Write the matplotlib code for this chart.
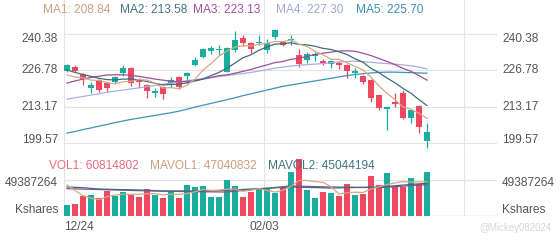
import matplotlib
matplotlib.use("Agg")
import matplotlib.pyplot as plt
import numpy as np
from matplotlib import transforms

plt.rcParams['font.family'] = ['Liberation Sans', 'DejaVu Sans']

# ---- data ----
date_labels = ['12/24', '02/03']
date_idx = [0, 25]

opens = [226.6, 228.2, 225.4, 220.0, 223.1, 222.0, 222.4, 225.6, 227.6, 223.1,
         221.3, 218.3, 220.5, 222.0, 224.3, 224.7, 228.8, 231.8, 234.0, 234.3,
         226.2, 234.4, 238.9, 237.0, 237.0, 234.4, 239.3, 237.4, 238.1, 232.5,
         230.6, 232.1, 230.2, 229.1, 229.5, 228.8, 225.8, 224.7, 223.1, 217.5,
         212.2, 214.9, 218.3, 208.9, 213.4, 200.3]
closes = [228.8, 226.7, 223.5, 221.3, 219.4, 220.1, 224.3, 227.6, 222.0, 222.4,
          219.0, 219.0, 217.9, 223.1, 220.5, 225.6, 230.6, 234.8, 235.1, 234.6,
          235.1, 238.1, 237.0, 234.8, 237.4, 237.0, 241.9, 236.3, 238.5, 229.1,
          232.9, 232.9, 229.5, 230.2, 228.8, 226.6, 226.6, 222.4, 216.4, 212.6,
          213.2, 214.2, 208.9, 211.9, 205.5, 203.6]
highs = [229.3, 228.6, 225.8, 222.4, 223.5, 222.4, 224.8, 228.8, 228.2, 223.9,
         221.6, 220.1, 220.9, 224.3, 224.8, 226.2, 231.8, 235.1, 235.9, 236.3,
         235.5, 241.5, 240.0, 237.4, 240.0, 238.5, 242.3, 237.8, 240.0, 234.8,
         233.6, 233.6, 231.0, 230.6, 230.2, 229.1, 227.6, 225.0, 223.5, 218.0,
         213.6, 218.3, 219.4, 212.2, 213.8, 207.0]
lows = [226.2, 226.3, 221.3, 218.3, 218.8, 218.6, 222.0, 224.8, 220.9, 220.5,
        216.4, 216.7, 216.0, 220.5, 219.8, 222.0, 228.4, 231.4, 232.9, 232.5,
        226.2, 233.6, 235.9, 233.3, 236.3, 233.3, 238.5, 235.9, 236.3, 228.0,
        229.5, 230.2, 228.8, 227.6, 227.1, 223.9, 224.0, 221.6, 214.9, 211.9,
        204.4, 213.0, 208.6, 207.0, 203.3, 197.7]
volume_m = [15.1, 16.5, 27.4, 28.8, 25.1, 34.3, 27.9, 33.4, 28.4, 25.6,
            37.0, 28.4, 25.1, 32.9, 25.1, 42.5, 40.2, 41.2, 26.5, 26.5,
            49.4, 41.6, 26.1, 33.4, 37.0, 37.0, 31.1, 38.0, 60.8, 77.8,
            35.7, 24.3, 32.5, 31.1, 27.4, 43.5, 28.8, 30.2, 55.3, 42.5,
            59.4, 39.4, 39.4, 51.7, 43.9, 60.8]

ma1 = [225.0, 224.3, 223.9, 223.1, 223.0, 222.2, 221.7, 222.5, 222.7, 223.3,
       223.1, 222.0, 220.1, 220.3, 219.9, 221.2, 223.5, 226.9, 229.3, 232.1,
       234.0, 235.5, 236.0, 235.9, 236.5, 236.9, 237.6, 237.5, 238.2, 236.6,
       235.7, 233.9, 232.6, 230.9, 230.9, 229.6, 228.3, 226.9, 224.2, 220.9,
       218.2, 215.8, 213.1, 212.2, 210.7, 208.8]
ma2 = [226.9, 226.0, 225.2, 224.5, 223.8, 223.3, 223.2, 223.5, 223.5, 223.2,
       222.6, 221.9, 221.3, 221.5, 221.6, 222.1, 222.8, 223.5, 224.8, 226.0,
       227.6, 229.5, 231.5, 232.6, 234.3, 235.5, 236.6, 236.7, 237.1, 236.5,
       236.3, 235.8, 235.0, 234.6, 233.7, 232.7, 231.1, 229.8, 227.5, 225.9,
       223.9, 222.1, 220.0, 218.2, 215.8, 213.6]
ma3 = [222.0, 222.8, 223.5, 224.1, 224.6, 225.0, 225.1, 225.1, 224.9, 224.5,
       224.0, 223.5, 223.1, 222.7, 222.5, 222.6, 223.0, 223.5, 224.1, 224.8,
       225.1, 225.7, 226.4, 227.1, 228.0, 228.8, 229.7, 230.1, 230.9, 231.3,
       232.0, 232.7, 233.2, 233.6, 234.0, 234.1, 233.9, 233.2, 232.3, 231.2,
       230.1, 228.9, 227.5, 226.4, 224.8, 223.1]
ma4 = [216.0, 216.5, 217.0, 217.5, 218.0, 218.5, 219.0, 219.4, 219.8, 220.2,
       220.7, 221.1, 221.6, 222.0, 222.5, 222.9, 223.3, 223.7, 224.0, 224.4,
       224.8, 225.2, 225.6, 226.0, 226.5, 227.0, 227.6, 228.0, 228.4, 228.7,
       228.9, 229.1, 229.3, 229.6, 229.9, 230.1, 230.2, 230.0, 229.8, 229.5,
       229.3, 229.1, 228.8, 228.5, 228.0, 227.3]
ma5 = [203.3, 203.9, 204.6, 205.2, 205.9, 206.5, 207.2, 207.8, 208.4, 208.9,
       209.4, 209.9, 210.4, 210.9, 211.5, 212.2, 213.0, 213.7, 214.4, 215.1,
       215.8, 216.5, 217.3, 218.0, 218.7, 219.4, 220.1, 220.8, 221.3, 221.8,
       222.3, 222.8, 223.3, 223.8, 224.3, 224.8, 225.2, 225.5, 225.8, 226.0,
       226.1, 226.1, 226.0, 225.9, 225.8, 225.7]

mavol1_m = [42.5, 35.0, 28.0, 24.5, 22.6, 26.4, 28.7, 29.9, 29.8, 29.9,
            30.5, 30.6, 28.9, 29.8, 29.7, 30.8, 33.2, 36.4, 35.1, 35.4,
            36.8, 37.0, 34.0, 35.4, 37.5, 35.0, 32.9, 35.3, 40.8, 48.9,
            48.7, 47.3, 46.2, 40.3, 30.2, 31.8, 32.7, 32.2, 37.0, 40.1,
            43.2, 45.4, 47.2, 46.5, 46.8, 47.0]
mavol2_idx = [0, 2, 4, 6, 9, 12, 17, 20, 28, 33, 39, 45]
mavol2_m = [39.8, 38.8, 37.0, 36.4, 35.7, 34.3, 34.3, 35.3, 39.8, 38.4, 39.8, 45.0]
mavol3_idx = [0, 5, 10, 15, 20, 28, 33, 39, 45]
mavol3_m = [37.5, 36.0, 34.5, 33.5, 32.9, 41.2, 39.8, 38.8, 43.0]

ma_names = ['MA1', 'MA2', 'MA3', 'MA4', 'MA5']
ma_last = ['208.84', '213.58', '223.13', '227.30', '225.70']
price_ticks = [240.38, 226.78, 213.17, 199.57]
vol_tick = 49387264
vol_texts = ['VOL1: 60814802', 'MAVOL1: 47040832', 'MAVOL2: 45044194']

# ---- colours ----
UP = '#1aad9e'
DOWN = '#ef4760'
GRID = '#e4e4e4'
LABEL = '#555555'
ma_line_colors = ['#d6a982', '#3f6c79', '#9e4e9a', '#aaaede', '#3b94bd']
ma_text_colors = ['#c8a27f', '#3f7584', '#a14f9e', '#a1a8d6', '#3a8fb8']
vol_text_colors = ['#ec6b7d', '#c8a27f', '#3f7584']

W, H = 560, 240
FS = 8.6


def rect(x0, y0, x1, y1):
    return [x0 / W, 1 - y1 / H, (x1 - x0) / W, (y1 - y0) / H]


fig = plt.figure(figsize=(W / 100, H / 100), dpi=100)

n = len(closes)
x = np.arange(n)
o = np.array(opens)
c = np.array(closes)
colors = np.where(c >= o, UP, DOWN)

# index space: candle i sits at pixel 67 + 8*i, plot runs from 64 to 497
x0, x1 = -0.375, 53.75
vgrid = [x0, 25 + x0, 50 + x0, x1]

bg = fig.add_axes(rect(64, 0, 497, 216))
bg.set_xlim(x0, x1)
bg.set_ylim(0, 1)
bg.axis('off')
for g in vgrid:
    bg.axvline(g, color=GRID, lw=0.8, zorder=0)

# price panel: 240.38 at y=34px, 199.57 at y=143px
k = (price_ticks[0] - price_ticks[-1]) / (143 - 34)
ax = fig.add_axes(rect(64, 22, 497, 150))
ax.patch.set_visible(False)
ax.set_xlim(x0, x1)
ax.set_ylim(price_ticks[0] - (150 - 34) * k, price_ticks[0] + (34 - 22) * k)
for t in price_ticks:
    ax.axhline(t, color=GRID, lw=0.8, zorder=0)

ax.vlines(x, lows, highs, colors=colors, lw=0.9, zorder=2)
body_low = np.minimum(o, c)
body_h = np.maximum(np.abs(c - o), 0.3)
ax.bar(x, body_h, bottom=body_low, width=0.72, color=colors, lw=0, zorder=2)

for ma, col in zip([ma5, ma4, ma3, ma2, ma1], ma_line_colors[::-1]):
    ax.plot(x, ma, color=col, lw=0.9, zorder=3)

# volume panel: 0 at y=216px, 49387264 at y=180px
vax = fig.add_axes(rect(64, 150, 497, 216))
vax.patch.set_visible(False)
vax.set_xlim(x0, x1)
vax.set_ylim(0, vol_tick * 66 / 36)
vax.axhline(vol_tick, color=GRID, lw=0.8, zorder=0)
vax.axhline(0, color='#d6d6d6', lw=1.0, zorder=0)
vol = np.array(volume_m) * 1e6
vax.bar(x, vol, width=0.72, color=colors, lw=0, zorder=2)
vax.plot(mavol3_idx, np.array(mavol3_m) * 1e6, color='#8e4f96', lw=0.9, zorder=3)
vax.plot(mavol2_idx, np.array(mavol2_m) * 1e6, color='#3f6c79', lw=0.9, zorder=3)
vax.plot(x, np.array(mavol1_m) * 1e6, color='#d6a982', lw=0.9, zorder=3)

for a in (ax, vax):
    for s in a.spines.values():
        s.set_visible(False)
    a.set_xticks([])
    a.set_yticks([])


def side_label(a, val, text, dy):
    # dy in pixels, positive = down
    for fx, ha in ((58 / W, 'right'), (502 / W, 'left')):
        tr = transforms.blended_transform_factory(fig.transFigure, a.transData)
        tr = transforms.offset_copy(tr, fig=fig, x=0, y=-dy, units='dots')
        fig.text(fx, val, text, transform=tr, ha=ha, va='center',
                 fontsize=FS, color=LABEL)


offs = [5, 0, 0, -3]
for t, d in zip(price_ticks, offs):
    side_label(ax, t, f'{t:.2f}', d)
side_label(vax, vol_tick, str(vol_tick), 3)
side_label(vax, 0, 'Kshares', -6)

# date labels
xtr = transforms.blended_transform_factory(vax.transData, fig.transFigure)
for i, (idx, lab) in enumerate(zip(date_idx, date_labels)):
    ha = 'left' if i == 0 else 'center'
    fig.text(idx + x0, 1 - 227 / H, lab, transform=xtr, ha=ha, va='center',
             fontsize=FS, color=LABEL)

# legends
ma_x = [43, 120, 193, 276, 356]
for name, val, col, px in zip(ma_names, ma_last, ma_text_colors, ma_x):
    fig.text(px / W, 1 - 10 / H, f'{name}: {val}', ha='left', va='center',
             fontsize=FS, color=col)
vol_x = [49, 150, 268]
for txt, col, px in zip(vol_texts, vol_text_colors, vol_x):
    fig.text(px / W, 1 - 166 / H, txt, ha='left', va='center',
             fontsize=FS, color=col, zorder=5)

fig.text(515 / W, 1 - 228 / H, '@Mickey082024', ha='center', va='center',
         fontsize=7, color='#d6d6d6')

fig.savefig('out.png', dpi=100)
